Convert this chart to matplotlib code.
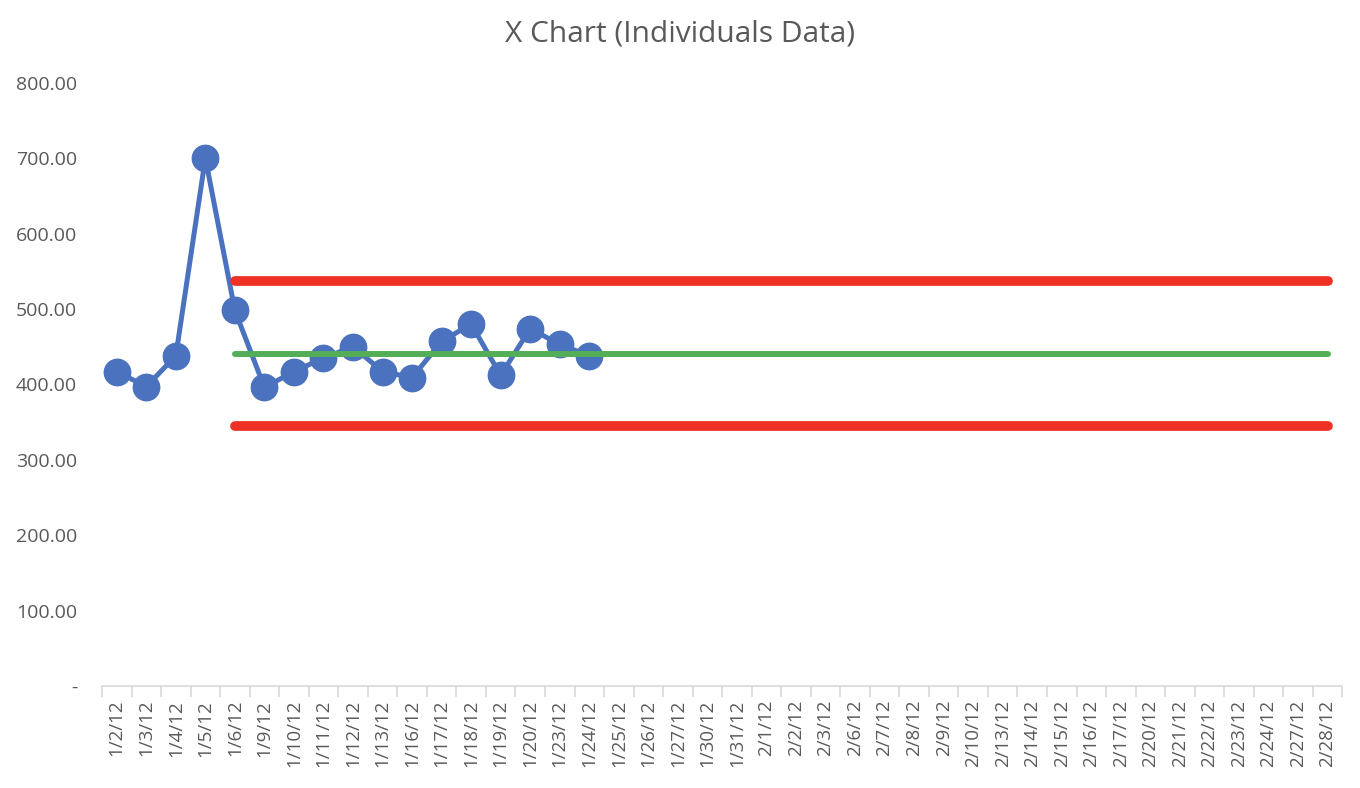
import numpy as np
import matplotlib
matplotlib.use("Agg")
import matplotlib.pyplot as plt
from matplotlib.ticker import FixedLocator, FuncFormatter

# %% Daten
dates = ['1/2/12', '1/3/12', '1/4/12', '1/5/12', '1/6/12', '1/9/12', '1/10/12',
         '1/11/12', '1/12/12', '1/13/12', '1/16/12', '1/17/12', '1/18/12',
         '1/19/12', '1/20/12', '1/23/12', '1/24/12', '1/25/12', '1/26/12',
         '1/27/12', '1/30/12', '1/31/12', '2/1/12', '2/2/12', '2/3/12',
         '2/6/12', '2/7/12', '2/8/12', '2/9/12', '2/10/12', '2/13/12',
         '2/14/12', '2/15/12', '2/16/12', '2/17/12', '2/20/12', '2/21/12',
         '2/22/12', '2/23/12', '2/24/12', '2/27/12', '2/28/12']
values = [417, 397, 438, 700, 498, 396, 417, 435, 450, 417, 409, 457, 480,
          412, 474, 453, 438]
limit_start = 4  # Grenzen ab 1/6/12
mean_val = 440
ucl = 537.5
lcl = 344.6

# %% Visualisierung
plt.rcParams['font.family'] = ['Open Sans', 'DejaVu Sans']
grey = '#595959'

fig = plt.figure(figsize=(13.6, 7.88), dpi=100)
ax = fig.add_axes([0.075, 0.1294, 0.912, 0.7656])

x = np.arange(len(dates))
xv = np.arange(len(values))
xl = x[limit_start:]

ax.plot(xv, values, color='#4A72BE', linewidth=3.6, marker='o',
        markersize=19, zorder=3)
ax.plot(xl, [ucl] * len(xl), color='#EE3124', linewidth=7,
        solid_capstyle='round', zorder=4)
ax.plot(xl, [lcl] * len(xl), color='#EE3124', linewidth=7,
        solid_capstyle='round', zorder=4)
ax.plot(xl, [mean_val] * len(xl), color='#54AE57', linewidth=4.3,
        solid_capstyle='round', zorder=4)

ax.set_xlim(-0.5, len(dates) - 0.5)
ax.set_ylim(0, 800)

ax.set_xticks(x)
ax.set_xticklabels(dates, rotation=90, fontsize=13.5, color=grey)
ax.xaxis.set_minor_locator(FixedLocator(np.arange(len(dates) + 1) - 0.5))
ax.tick_params(axis='x', which='major', length=0, pad=10)
ax.tick_params(axis='x', which='minor', length=8, color='#D9D9D9', width=1.2)

ax.set_yticks(np.arange(0, 801, 100))
ax.yaxis.set_major_formatter(FuncFormatter(
    lambda v, p: '-' if v == 0 else f'{v:.2f}'))
ax.tick_params(axis='y', length=0, labelsize=14, labelcolor=grey, pad=18)

for s in ['top', 'right', 'left']:
    ax.spines[s].set_visible(False)
ax.spines['bottom'].set_color('#D9D9D9')
ax.spines['bottom'].set_linewidth(1.2)

fig.text(0.5, 0.957, 'X Chart (Individuals Data)', ha='center', va='center',
         fontsize=21.5, color=grey)

fig.savefig('out.png', dpi=100)
